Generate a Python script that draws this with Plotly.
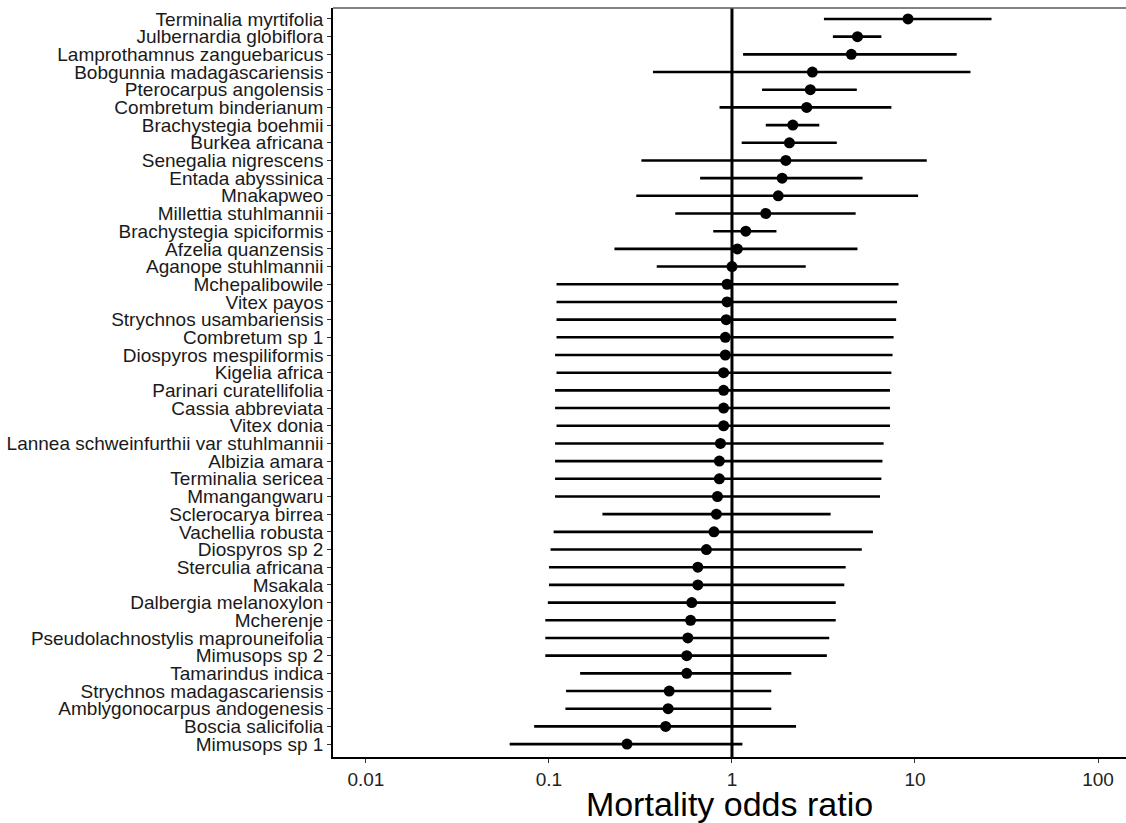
import plotly.graph_objects as go

species = [
    "Terminalia myrtifolia", "Julbernardia globiflora", "Lamprothamnus zanguebaricus",
    "Bobgunnia madagascariensis", "Pterocarpus angolensis", "Combretum binderianum",
    "Brachystegia boehmii", "Burkea africana", "Senegalia nigrescens", "Entada abyssinica",
    "Mnakapweo", "Millettia stuhlmannii", "Brachystegia spiciformis", "Afzelia quanzensis",
    "Aganope stuhlmannii", "Mchepalibowile", "Vitex payos", "Strychnos usambariensis",
    "Combretum sp 1", "Diospyros mespiliformis", "Kigelia africa", "Parinari curatellifolia",
    "Cassia abbreviata", "Vitex donia", "Lannea schweinfurthii var stuhlmannii",
    "Albizia amara", "Terminalia sericea", "Mmangangwaru", "Sclerocarya birrea",
    "Vachellia robusta", "Diospyros sp 2", "Sterculia africana", "Msakala",
    "Dalbergia melanoxylon", "Mcherenje", "Pseudolachnostylis maprouneifolia",
    "Mimusops sp 2", "Tamarindus indica", "Strychnos madagascariensis",
    "Amblygonocarpus andogenesis", "Boscia salicifolia", "Mimusops sp 1",
]

odds_ratio = [
    9.16, 4.85, 4.49, 2.75, 2.68, 2.56, 2.15, 2.06, 1.97, 1.88,
    1.79, 1.53, 1.19, 1.07, 1.00, 0.94, 0.94, 0.93, 0.92, 0.92,
    0.90, 0.90, 0.90, 0.90, 0.865, 0.853, 0.853, 0.833, 0.822, 0.797,
    0.725, 0.651, 0.651, 0.603, 0.594, 0.574, 0.566, 0.566, 0.454, 0.448,
    0.434, 0.267,
]

lower_ci = [
    3.18, 3.56, 1.15, 0.37, 1.46, 0.855, 1.53, 1.13, 0.32, 0.67,
    0.30, 0.49, 0.79, 0.228, 0.388, 0.110, 0.110, 0.110, 0.110, 0.108,
    0.110, 0.108, 0.108, 0.110, 0.108, 0.108, 0.108, 0.108, 0.196, 0.106,
    0.102, 0.100, 0.100, 0.0986, 0.0955, 0.0955, 0.0955, 0.148, 0.124, 0.123,
    0.083, 0.061,
]

upper_ci = [
    26.2, 6.55, 16.9, 20.1, 4.81, 7.43, 3.0, 3.74, 11.6, 5.17,
    10.4, 4.74, 1.75, 4.85, 2.53, 8.13, 7.98, 7.89, 7.64, 7.54,
    7.43, 7.3, 7.3, 7.3, 6.74, 6.64, 6.55, 6.44, 3.46, 5.89,
    5.12, 4.18, 4.11, 3.69, 3.69, 3.40, 3.30, 2.11, 1.64, 1.64,
    2.24, 1.14,
]

x_tick_vals = [0.01, 0.1, 1, 10, 100]
x_tick_text = ["0.01", "0.1", "1", "10", "100"]

err_plus = [h - p for h, p in zip(upper_ci, odds_ratio)]
err_minus = [p - l for p, l in zip(odds_ratio, lower_ci)]

FONT = "Liberation Sans, Arial, sans-serif"

fig = go.Figure()
fig.add_trace(go.Scatter(
    x=odds_ratio, y=species, mode="markers",
    marker=dict(color="black", size=11),
    error_x=dict(type="data", symmetric=False, array=err_plus, arrayminus=err_minus,
                 color="black", thickness=2.6, width=0),
    showlegend=False, hoverinfo="x+y",
))

fig.add_shape(type="line", xref="x", yref="paper", x0=1, x1=1, y0=0, y1=1,
              line=dict(color="black", width=3), layer="below")
fig.add_shape(type="line", xref="paper", yref="paper", x0=0, x1=1, y0=1, y1=1,
              line=dict(color="#5a5a5a", width=1.5))

n = len(species)
fig.update_layout(
    width=1126, height=823,
    margin=dict(l=333, r=0, t=8, b=66),
    plot_bgcolor="white", paper_bgcolor="white",
    font=dict(family=FONT, color="#1a1a1a"),
    xaxis=dict(
        type="log", range=[-2.180, 2.153],
        tickmode="array", tickvals=x_tick_vals, ticktext=x_tick_text,
        tickfont=dict(size=19, color="#222"),
        ticks="outside", ticklen=4, tickcolor="#333", tickwidth=1,
        showline=True, linecolor="black", linewidth=1.5,
        showgrid=False, zeroline=False,
        title=dict(text="Mortality odds ratio", font=dict(size=34, color="black"), standoff=6),
    ),
    yaxis=dict(
        type="category", categoryorder="array", categoryarray=species,
        tickmode="array", tickvals=species, ticktext=species,
        range=[n - 1 + 0.73, -0.62],
        tickfont=dict(size=19, color="#1a1a1a"),
        ticks="outside", ticklen=4, tickcolor="#333", tickwidth=1,
        showline=True, linecolor="black", linewidth=1.5,
        showgrid=False, zeroline=False,
    ),
)

fig.write_html("out.html")
